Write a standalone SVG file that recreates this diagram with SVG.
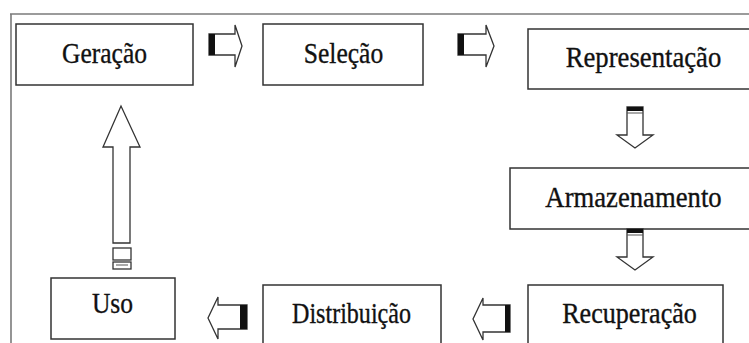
<svg xmlns="http://www.w3.org/2000/svg" width="749" height="343" viewBox="0 0 749 343">
<style>
.frame{stroke:#7a7a7a;stroke-width:1.6;fill:none}
.box{fill:#fff;stroke:#333;stroke-width:1.5}
.lbl{font-family:'Liberation Serif','Times New Roman',Times,'DejaVu Serif',serif;font-size:29px;fill:#111;stroke:#111;stroke-width:0.35;text-anchor:middle}
.arr{fill:#fff;stroke:#333;stroke-width:1.3;stroke-linejoin:miter}
.bar{fill:#111}
</style>
<rect width="749" height="343" fill="#fff"/>
<g id="frame">
<line class="frame" x1="10" y1="14" x2="749" y2="14"/>
<line class="frame" x1="11" y1="14" x2="11" y2="343"/>
</g>
<g id="geracao"><rect class="box" x="16" y="24" width="177" height="61"/><text class="lbl" x="104.5" y="63" transform="translate(104.5 63) scale(0.88 1) translate(-104.5 -63)">Geração</text></g>
<g id="selecao"><rect class="box" x="263" y="24" width="160" height="61"/><text class="lbl" x="343.5" y="63" transform="translate(343.5 63) scale(0.88 1) translate(-343.5 -63)">Seleção</text></g>
<g id="representacao"><rect class="box" x="528" y="29" width="240" height="60"/><text class="lbl" x="643.5" y="67" transform="translate(643.5 67) scale(0.92 1) translate(-643.5 -67)">Representação</text></g>
<g id="armazenamento"><rect class="box" x="510" y="168" width="260" height="61"/><text class="lbl" x="633.5" y="207" transform="translate(633.5 207) scale(0.92 1) translate(-633.5 -207)">Armazenamento</text></g>
<g id="recuperacao"><rect class="box" x="528" y="285" width="195" height="70"/><text class="lbl" x="629.5" y="323" transform="translate(629.5 323) scale(0.9 1) translate(-629.5 -323)">Recuperação</text></g>
<g id="distribuicao"><rect class="box" x="263" y="285" width="178" height="70"/><text class="lbl" x="351.5" y="323" transform="translate(351.5 323) scale(0.83 1) translate(-351.5 -323)">Distribuição</text></g>
<g id="uso"><rect class="box" x="51" y="278" width="124" height="61"/><text class="lbl" x="112.5" y="313" transform="translate(112.5 313) scale(0.88 1) translate(-112.5 -313)">Uso</text></g>
<g id="connectors">
<g id="a1"><path class="arr" d="M209,34 H235 V25 L242,46 L235,67 V55 H209 Z"/><rect class="bar" x="209" y="34" width="6" height="21"/></g>
<g id="a2"><path class="arr" d="M458,34 H486 V25 L494,46 L486,67 V55 H458 Z"/><rect class="bar" x="458" y="34" width="6" height="21"/></g>
<g id="a3"><path class="arr" d="M627,107 H643 V135 H653 L635,148 L617,135 H627 Z"/><rect class="bar" x="627" y="107" width="16" height="4"/><line x1="627" y1="113" x2="643" y2="113" stroke="#555" stroke-width="1"/></g>
<g id="a4"><path class="arr" d="M627,229 H643 V257 H653 L635,270 L617,257 H627 Z"/><rect class="bar" x="627" y="229" width="16" height="4"/><line x1="627" y1="235" x2="643" y2="235" stroke="#555" stroke-width="1"/></g>
<g id="a5"><path class="arr" d="M510,305 H483 V298 L473,319 L483,340 V332 H510 Z"/><rect class="bar" x="505" y="305" width="5" height="27"/></g>
<g id="a6"><path class="arr" d="M247,305 H218 V297 L208,318 L218,339 V329 H247 Z"/><rect class="bar" x="240" y="305" width="7" height="24"/></g>
<g id="a7"><path class="arr" d="M113,243 V147 H103 L121,106 L140,147 H130 V243 Z"/><rect class="arr" x="113" y="248" width="18" height="12"/><rect class="arr" x="113" y="262" width="18" height="7"/><line x1="116" y1="265" x2="128" y2="265" stroke="#555" stroke-width="1"/></g>
</g>
</svg>
